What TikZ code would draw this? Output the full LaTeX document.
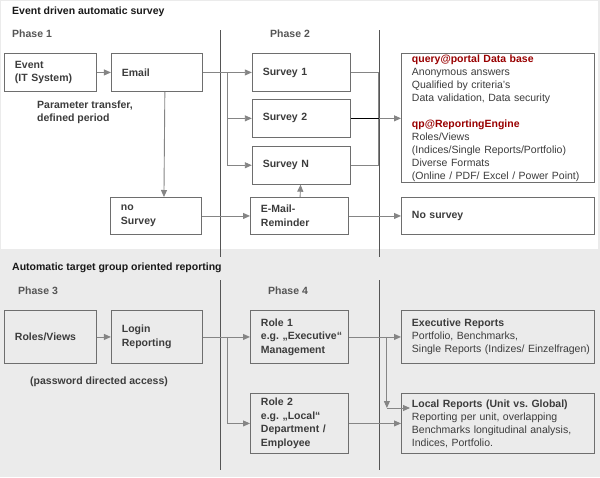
\documentclass[tikz,border=0pt]{standalone}
\usepackage{fontspec}
\setmainfont{Liberation Sans}
\usetikzlibrary{arrows.meta, positioning}
\frenchspacing

\definecolor{panelgray}{HTML}{EBEBEB}
\definecolor{framegray}{HTML}{E2E2E2}
\definecolor{boxline}{HTML}{6E6E6E}
\definecolor{arrowgray}{HTML}{858585}
\definecolor{txtgray}{HTML}{3C3C3C}
\definecolor{phasegray}{HTML}{555555}
\definecolor{dbred}{HTML}{990000}

\begin{document}
\begin{tikzpicture}[
    x=1pt, y=-1pt,
    font=\fontsize{10.5}{13}\selectfont,
    box/.style={draw=boxline, line width=0.9pt, anchor=north west, align=left,
        inner xsep=10.5pt, inner ysep=1pt, text=txtgray,
        font=\fontsize{10.5}{13.5}\selectfont\bfseries},
    infobox/.style={box, text width=172pt, font=\fontsize{10.5}{13}\selectfont},
    title/.style={anchor=west, inner sep=0pt, font=\fontsize{10.5}{13}\selectfont\bfseries, text=black!90},
    phase/.style={anchor=west, inner sep=0pt, font=\fontsize{10.5}{13}\selectfont\bfseries, text=phasegray},
    note/.style={anchor=west, inner sep=0pt, align=left, font=\fontsize{10.5}{13}\selectfont\bfseries, text=txtgray},
    sep/.style={draw=phasegray, line width=0.9pt},
    line/.style={draw=arrowgray, line width=0.9pt},
    arr/.style={line, -{Triangle[length=7pt, width=6pt]}}
]

   % Background panels
   \useasboundingbox (0,0) rectangle (600,477);
   \fill[panelgray] (0,0) rectangle (600,477);
   \fill[white] (1,1) rectangle (598,249);

   % Phase separators
   \draw[sep] (220,30) -- (220,257);
   \draw[sep] (379,30) -- (379,257);
   \draw[sep] (220,280) -- (220,470);
   \draw[sep] (379,280) -- (379,470);

   % Headings
   \node[title] (tsurvey) at (12,12) {Event driven automatic survey};
   \node[phase] (ph1) at (12,34) {Phase 1};
   \node[phase] (ph2) at (270,34) {Phase 2};
   \node[title] (treport) at (12,268) {Automatic target group oriented reporting};
   \node[phase] (ph3) at (18,291) {Phase 3};
   \node[phase] (ph4) at (268,291) {Phase 4};

   % Survey part
   \node[box, text width=71pt, minimum height=38pt] (event) at (4,53) {Event\\(IT System)};
   \node[box, text width=70pt, minimum height=38pt, right=14pt of event] (email) {Email};
   \node[box, text width=77pt, minimum height=38pt, right=49pt of email] (s1) {Survey 1};
   \node[box, text width=77pt, minimum height=38pt, below=7pt of s1] (s2) {Survey 2};
   \node[box, text width=77pt, minimum height=38pt, below=8pt of s2] (sN) {Survey N};
   \node[infobox] (db) at (401,53) {%
      {\bfseries\color{dbred}query@portal Data base}\\
      Anonymous answers\\
      Qualified by criteria's\\
      Data validation, Data security\\[13pt]
      {\bfseries\color{dbred}qp@ReportingEngine}\\
      Roles/Views\\
      (Indices/Single Reports/Portfolio)\\
      Diverse Formats\\
      (Online / PDF/ Excel / Power Point)};

   \node[box, text width=70pt, minimum height=37pt] (nosurv) at (110,197) {no\\Survey};
   \node[box, text width=77pt, minimum height=37pt] (rem) at (250,197) {E-Mail-\\Reminder};
   \node[box, text width=172pt, minimum height=37pt] (nos) at (401,197) {No survey};

   \node[note] (param) at (37,112) {Parameter transfer,\\defined period};

   % Reporting part
   \node[box, text width=71pt, minimum height=53pt] (roles) at (4,310) {Roles/Views};
   \node[box, text width=70pt, minimum height=53pt, right=14pt of roles] (login) {Login\\Reporting};
   \node[box, text width=77pt, minimum height=53pt] (role1) at (250,310) {Role 1\\\mbox{e.g. „Executive“}\\Management};
   \node[box, text width=77pt, minimum height=60pt] (role2) at (250,393) {Role 2\\\mbox{e.g. „Local“}\\\mbox{Department /}\\Employee};
   \node[infobox, minimum height=53pt] (exec) at (401,310) {%
      {\bfseries Executive Reports}\\
      Portfolio, Benchmarks,\\
      \mbox{Single Reports (Indizes/ Einzelfragen)}};
   \node[infobox, minimum height=60pt] (local) at (401,393) {%
      {\bfseries Local Reports (Unit vs. Global)}\\
      Reporting per unit, overlapping\\
      Benchmarks longitudinal analysis,\\
      Indices, Portfolio.};

   \node[note] (pwd) at (30,382) {(password directed access)};

   % Branch points
   \coordinate (eb) at ([xshift=25pt]email.east);
   \coordinate (sc) at ([xshift=28pt]s1.east);
   \coordinate (lb) at ([xshift=25pt]login.east);
   \coordinate (rb) at ([xshift=38pt]role1.east);
   \coordinate (corner) at ([yshift=-15pt]rb |- local.north);
   \coordinate (lc) at (corner -| local.west);

   % Survey connectors
   \draw[arr] (event) -- (email);
   \draw[line] (email.east) -- (eb);
   \draw[arr] (eb) -- (s1.west);
   \draw[arr] (eb) |- (s2.west);
   \draw[arr] (eb) |- (sN.west);
   \draw[line] (s1.east) -- (sc) -- (sc |- sN.east) -- (sN.east);
   \draw[black, line width=0.9pt] (s2.east) -- (sc |- s2.east);
   \draw[arr] (sc |- s2.east) -- (db.west |- s2.east);
   \draw[arr] ([xshift=8pt]email.south) -- ([xshift=8pt]nosurv.north);
   \draw[arr] (nosurv) -- (rem);
   \draw[arr] (rem) -- (sN);
   \draw[arr] (rem) -- (nos);

   % Reporting connectors
   \draw[arr] (roles) -- (login);
   \draw[line] (login.east) -- (lb);
   \draw[arr] (lb) -- (role1.west);
   \draw[arr] (lb) |- (role2.west);
   \draw[arr] (role1) -- (exec);
   \draw[arr] (rb) -- (corner);
   \draw[arr] (corner) -- ([xshift=9pt]lc);
   \draw[arr] (role2) -- (local);

\end{tikzpicture}
\end{document}
